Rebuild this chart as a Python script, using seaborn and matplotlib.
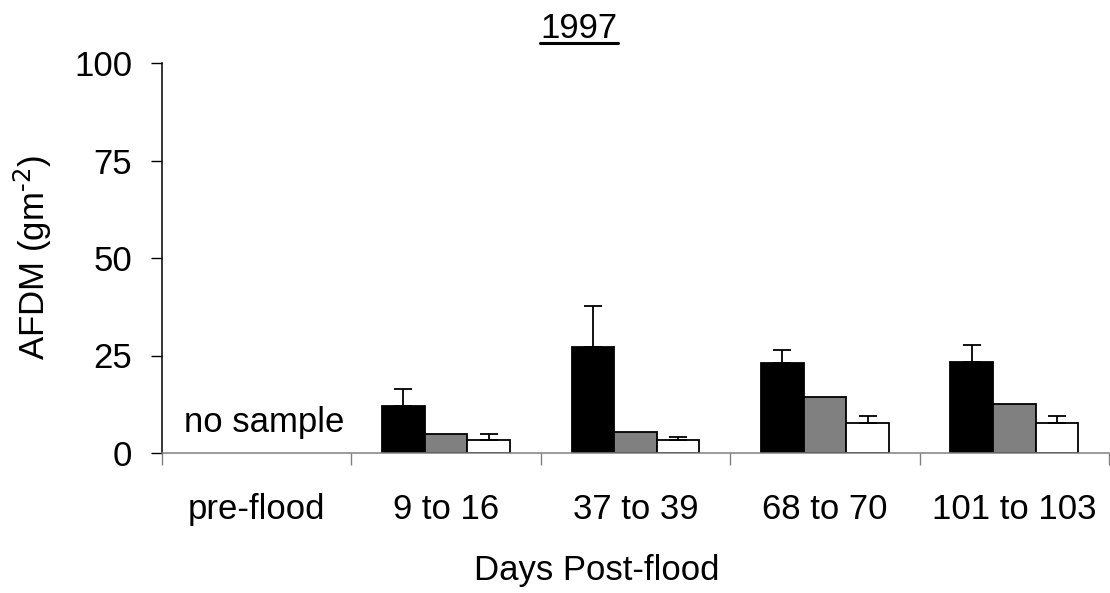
import numpy as np
import pandas as pd
import matplotlib
matplotlib.use("Agg")
import matplotlib.pyplot as plt
from matplotlib.lines import Line2D
import seaborn as sns

# ---- data ----
categories = ["pre-flood", "9 to 16", "37 to 39", "68 to 70", "101 to 103"]
series = ["Series A", "Series B", "Series C"]
vals_a = [np.nan, 12.1, 27.3, 23.0, 23.4]
vals_b = [np.nan, 4.8, 5.5, 14.3, 12.6]
vals_c = [np.nan, 3.3, 3.3, 7.8, 7.8]
err_a = [0, 4.4, 10.4, 3.4, 4.3]
err_b = [0, 0, 0, 0, 0]
err_c = [0, 1.5, 0.9, 1.8, 1.8]
yticks = [0, 25, 50, 75, 100]
title_text = "1997"
xlabel_text = "Days Post-flood"
ylabel_text = r"AFDM (gm$^{\text{-2}}$)"
note_text = "no sample"

colors = ["#000000", "#808080", "#ffffff"]

sns.set_style("white")
plt.rcParams["font.family"] = ["Liberation Sans", "DejaVu Sans"]
plt.rcParams["mathtext.default"] = "regular"
for k in ["text.color", "axes.labelcolor", "xtick.color", "ytick.color"]:
    plt.rcParams[k] = "black"
FS = 25

df = pd.DataFrame({
    "period": categories * 3,
    "afdm": vals_a + vals_b + vals_c,
    "series": [s for s in series for _ in categories],
})
errs = {series[0]: err_a, series[1]: err_b, series[2]: err_c}

fig = plt.figure(figsize=(11.1, 5.93), dpi=100)
W, H = 1110, 593
ax = fig.add_axes([162 / W, 1 - 453 / H, (1109 - 162) / W, (453 - 63) / H])

sns.barplot(data=df, x="period", y="afdm", hue="series", order=categories,
            hue_order=series, palette=colors, edgecolor="black", linewidth=1.3,
            width=0.675, errorbar=None, legend=False, saturation=1, ax=ax)

for cont, name in zip(ax.containers, series):
    for bar in cont:
        h = bar.get_height()
        if not np.isfinite(h):
            continue
        xc = bar.get_x() + bar.get_width() / 2
        i = int(round(xc))
        e = errs[name][i]
        if e > 0:
            ax.errorbar(xc, h, yerr=[[0], [e]], fmt="none", ecolor="black",
                        elinewidth=1.3, capsize=6.5, capthick=1.3, zorder=1)

ax.set_xlim(-0.5, len(categories) - 0.5)
ax.set_ylim(0, 100)
ax.set_yticks(yticks)
ax.set_yticklabels([str(t) for t in yticks], fontsize=FS, color="black")
ax.tick_params(axis="y", direction="out", length=8, width=1, color="black",
               labelcolor="black", pad=13.5, left=True)

ax.set_xticks(np.arange(len(categories) + 1) - 0.5)
ax.set_xticklabels([])
ax.set_xticks(np.arange(len(categories)), minor=True)
ax.set_xticklabels(categories, minor=True, fontsize=FS, color="black")
ax.tick_params(axis="x", which="major", direction="out", length=8.5, width=1,
               color="#808080", bottom=True)
ax.tick_params(axis="x", which="minor", length=0, pad=29, labelcolor="black")

ax.set_xlabel("")
ax.set_ylabel("")
for s in ["top", "right"]:
    ax.spines[s].set_visible(False)
ax.spines["left"].set_color("black")
ax.spines["left"].set_linewidth(1.1)
ax.spines["bottom"].set_color("#808080")
ax.spines["bottom"].set_linewidth(1.1)

ax.text(0.04, 5.4, note_text, ha="center", va="baseline", fontsize=FS, color="black")

fig.text(33 / W, 1 - 258 / H, ylabel_text, rotation=90, ha="center", va="center",
         fontsize=FS, color="black")
fig.text(597 / W, 1 - 580 / H, xlabel_text, ha="center", va="baseline", fontsize=FS,
         color="black")
t = fig.text(579 / W, 1 - 38 / H, title_text, ha="center", va="baseline", fontsize=FS,
             color="black")

fig.canvas.draw()
bb = t.get_window_extent(fig.canvas.get_renderer())
fig.add_artist(Line2D([bb.x0 / W, bb.x1 / W], [1 - 42.5 / H, 1 - 42.5 / H],
                      transform=fig.transFigure, color="black", linewidth=2.2))

fig.savefig("out.png", dpi=100)
